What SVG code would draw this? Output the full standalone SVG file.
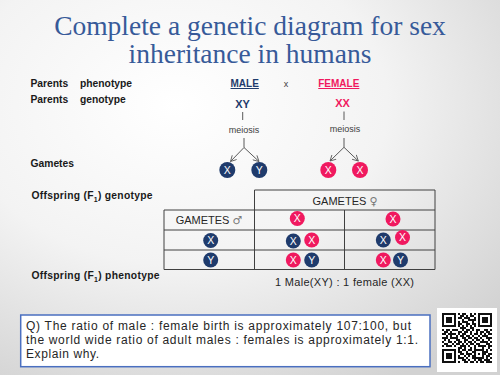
<svg xmlns="http://www.w3.org/2000/svg" width="500" height="375" viewBox="0 0 500 375">
<defs>
<radialGradient id="bg" cx="35%" cy="28%" r="85%">
<stop offset="0" stop-color="#ffffff"/>
<stop offset="0.5" stop-color="#f3f3f3"/>
<stop offset="1" stop-color="#d2d2d2"/>
</radialGradient>
<marker id="arr" viewBox="0 0 8 8" refX="7" refY="4" markerWidth="7" markerHeight="7" markerUnits="userSpaceOnUse" orient="auto">
<path d="M0.5,0.5 L7,4 L0.5,7.5" fill="none" stroke="#595959" stroke-width="1"/>
</marker>
<style>
.title{font-family:"Liberation Serif","Times New Roman",serif;font-size:27.5px;fill:#375a99;text-anchor:middle}
.lab{font-family:"Liberation Sans",Arial,sans-serif;font-size:10.3px;font-weight:bold;fill:#1a1a1a}
.par{font-family:"Liberation Sans",Arial,sans-serif;font-size:10px;font-weight:bold;text-decoration:underline;text-anchor:middle}
.geno{font-family:"Liberation Sans",Arial,sans-serif;font-size:11px;font-weight:bold;text-anchor:middle}
.small{font-family:"Liberation Sans",Arial,sans-serif;font-size:9px;fill:#404040;text-anchor:middle}
.tt{font-family:"Liberation Sans",Arial,sans-serif;font-size:11px;fill:#262626;text-anchor:middle}
.sym{font-family:"DejaVu Sans",sans-serif;font-size:11px;fill:#7a7a7a}
.q{font-family:"Liberation Sans",Arial,sans-serif;font-size:12px;fill:#262626}
.m{fill:#1f3b6c}
.f{fill:#f0195f}
.cl{font-family:"Liberation Sans",Arial,sans-serif;font-size:10.5px;fill:#ffffff;text-anchor:middle}
.navy{fill:#1f3b6c}
.pink{fill:#f0195f}
.conn{stroke:#595959;stroke-width:1;fill:none}
.grid{stroke:#404040;stroke-width:1;fill:none}
</style>
</defs>
<rect x="0" y="0" width="500" height="375" fill="url(#bg)"/>

<text class="title" x="250" y="35">Complete a genetic diagram for sex</text>
<text class="title" x="250" y="63">inheritance in humans</text>

<g id="labels">
<text class="lab" x="30.5" y="87">Parents</text>
<text class="lab" x="80" y="87">phenotype</text>
<text class="lab" x="30.5" y="103">Parents</text>
<text class="lab" x="80" y="103">genotype</text>
<text class="lab" x="30.5" y="167">Gametes</text>
<text class="lab" x="31.5" y="199" textLength="121">Offspring (F<tspan font-size="7" dy="2.5">1</tspan><tspan dy="-2.5">) genotype</tspan></text>
<text class="lab" x="31.5" y="279" textLength="128">Offspring (F<tspan font-size="7" dy="2.5">1</tspan><tspan dy="-2.5">) phenotype</tspan></text>
</g>

<g id="male-parent">
<text class="par navy" x="244.7" y="87">MALE</text>
<text class="geno navy" x="242.5" y="107.5">XY</text>
<text class="small" x="244" y="133">meiosis</text>
</g>
<text class="small" x="286" y="87" font-size="10">x</text>
<g id="female-parent">
<text class="par pink" x="338.8" y="87">FEMALE</text>
<text class="geno pink" x="342.5" y="107">XX</text>
<text class="small" x="345" y="131.5">meiosis</text>
</g>

<g id="connectors">
<line class="conn" x1="242.7" y1="112" x2="242.7" y2="120"/>
<line class="conn" x1="244" y1="138" x2="244" y2="147.5"/>
<line class="conn" x1="244" y1="147.5" x2="230.5" y2="161.5" marker-end="url(#arr)"/>
<line class="conn" x1="244" y1="147.5" x2="259" y2="161.5" marker-end="url(#arr)"/>
<line class="conn" x1="344" y1="111.5" x2="344" y2="120"/>
<line class="conn" x1="344" y1="138" x2="344" y2="147.3"/>
<line class="conn" x1="344" y1="147.3" x2="330" y2="161" marker-end="url(#arr)"/>
<line class="conn" x1="344" y1="147.3" x2="358.3" y2="161" marker-end="url(#arr)"/>
</g>

<g id="gamete-male-x"><circle class="m" cx="227.3" cy="170" r="8"/><text class="cl" x="227.3" y="173.8">X</text></g>
<g id="gamete-male-y"><circle class="m" cx="259.3" cy="170" r="8"/><text class="cl" x="259.3" y="173.8">Y</text></g>
<g id="gamete-female-x1"><circle class="f" cx="328.3" cy="170" r="8"/><text class="cl" x="328.3" y="173.8">X</text></g>
<g id="gamete-female-x2"><circle class="f" cx="360" cy="170" r="8"/><text class="cl" x="360" y="173.8">X</text></g>

<g id="punnett">
<path class="grid" d="M254.5,190 H435 V269.5 H164 V210 H435 M164,230 H435 M164,250 H435 M254.5,190 V269.5 M344.5,210 V269.5"/>
<text class="tt" x="345" y="205">GAMETES <tspan class="sym">♀</tspan></text>
<text class="tt" x="209" y="224">GAMETES <tspan class="sym">♂</tspan></text>
<circle class="f" cx="297.3" cy="218.5" r="7.5"/><text class="cl" x="297.3" y="222.2">X</text>
<circle class="f" cx="393" cy="219" r="7.5"/><text class="cl" x="393" y="222.7">X</text>
<circle class="m" cx="210.7" cy="240.5" r="7.5"/><text class="cl" x="210.7" y="244.2">X</text>
<circle class="m" cx="293.3" cy="241" r="7.5"/><text class="cl" x="293.3" y="244.7">X</text>
<circle class="f" cx="311.7" cy="240" r="7.5"/><text class="cl" x="311.7" y="243.7">X</text>
<circle class="m" cx="383.3" cy="240" r="7.5"/><text class="cl" x="383.3" y="243.7">X</text>
<circle class="f" cx="402.5" cy="237.5" r="7.5"/><text class="cl" x="402.5" y="241.2">X</text>
<circle class="m" cx="210.7" cy="260" r="7.5"/><text class="cl" x="210.7" y="263.7">Y</text>
<circle class="f" cx="293.3" cy="260" r="7.5"/><text class="cl" x="293.3" y="263.7">X</text>
<circle class="m" cx="311.7" cy="260" r="7.5"/><text class="cl" x="311.7" y="263.7">Y</text>
<circle class="f" cx="383.3" cy="260" r="7.5"/><text class="cl" x="383.3" y="263.7">X</text>
<circle class="m" cx="400.5" cy="260" r="7.5"/><text class="cl" x="400.5" y="263.7">Y</text>
</g>

<text class="tt" x="344.5" y="286" textLength="139">1 Male(XY) : 1 female (XX)</text>

<g id="question">
<rect x="20.7" y="315" width="409.3" height="51.7" fill="#ffffff" stroke="#4a6fc0" stroke-width="1.5"/>
<text class="q" x="26" y="330" textLength="385">Q) The ratio of male : female birth is approximately 107:100, but</text>
<text class="q" x="26" y="344" textLength="392">the world wide ratio of adult males : females is approximately 1:1.</text>
<text class="q" x="26" y="357.7" textLength="73">Explain why.</text>
</g>

<g id="qr">
<rect x="437" y="308" width="60" height="64" fill="#ffffff"/>
<path fill="#111111" d="M442 313h14v2h-14zM458 313h2v2h-2zM462 313h4v2h-4zM470 313h2v2h-2zM474 313h2v2h-2zM478 313h14v2h-14z
M442 315h2v2h-2zM454 315h2v2h-2zM460 315h4v2h-4zM466 315h2v2h-2zM470 315h4v2h-4zM478 315h2v2h-2zM490 315h2v2h-2z
M442 317h2v2h-2zM446 317h6v2h-6zM454 317h2v2h-2zM458 317h4v2h-4zM464 317h6v2h-6zM474 317h2v2h-2zM478 317h2v2h-2zM482 317h6v2h-6zM490 317h2v2h-2z
M442 319h2v2h-2zM446 319h6v2h-6zM454 319h2v2h-2zM462 319h2v2h-2zM468 319h8v2h-8zM478 319h2v2h-2zM482 319h6v2h-6zM490 319h2v2h-2z
M442 321h2v2h-2zM446 321h6v2h-6zM454 321h2v2h-2zM458 321h2v2h-2zM462 321h6v2h-6zM472 321h2v2h-2zM478 321h2v2h-2zM482 321h6v2h-6zM490 321h2v2h-2z
M442 323h2v2h-2zM454 323h2v2h-2zM458 323h4v2h-4zM466 323h4v2h-4zM472 323h4v2h-4zM478 323h2v2h-2zM490 323h2v2h-2z
M442 325h14v2h-14zM458 325h2v2h-2zM462 325h2v2h-2zM466 325h2v2h-2zM470 325h2v2h-2zM474 325h2v2h-2zM478 325h14v2h-14z
M460 327h6v2h-6zM470 327h4v2h-4z
M442 329h2v2h-2zM446 329h4v2h-4zM452 329h6v2h-6zM462 329h2v2h-2zM466 329h4v2h-4zM472 329h2v2h-2zM476 329h4v2h-4zM484 329h4v2h-4zM490 329h2v2h-2z
M444 331h4v2h-4zM450 331h2v2h-2zM458 331h4v2h-4zM464 331h4v2h-4zM470 331h2v2h-2zM476 331h2v2h-2zM480 331h4v2h-4zM486 331h4v2h-4z
M442 333h4v2h-4zM448 333h8v2h-8zM458 333h2v2h-2zM462 333h4v2h-4zM470 333h2v2h-2zM474 333h4v2h-4zM480 333h2v2h-2zM484 333h2v2h-2zM488 333h4v2h-4z
M446 335h2v2h-2zM450 335h2v2h-2zM456 335h2v2h-2zM460 335h4v2h-4zM466 335h4v2h-4zM472 335h2v2h-2zM478 335h2v2h-2zM482 335h6v2h-6z
M442 337h6v2h-6zM450 337h8v2h-8zM462 337h4v2h-4zM468 337h4v2h-4zM474 337h4v2h-4zM480 337h2v2h-2zM486 337h6v2h-6z
M444 339h2v2h-2zM448 339h2v2h-2zM456 339h4v2h-4zM464 339h4v2h-4zM472 339h2v2h-2zM476 339h4v2h-4zM482 339h2v2h-2zM488 339h2v2h-2z
M442 341h2v2h-2zM448 341h4v2h-4zM454 341h2v2h-2zM458 341h4v2h-4zM464 341h2v2h-2zM468 341h4v2h-4zM474 341h2v2h-2zM480 341h8v2h-8zM490 341h2v2h-2z
M444 343h4v2h-4zM452 343h2v2h-2zM456 343h4v2h-4zM462 343h2v2h-2zM466 343h2v2h-2zM470 343h4v2h-4zM476 343h4v2h-4zM486 343h4v2h-4z
M442 345h2v2h-2zM446 345h6v2h-6zM454 345h2v2h-2zM460 345h6v2h-6zM468 345h2v2h-2zM474 345h2v2h-2zM478 345h8v2h-8zM488 345h4v2h-4z
M458 347h4v2h-4zM464 347h2v2h-2zM470 347h2v2h-2zM474 347h2v2h-2zM482 347h2v2h-2zM488 347h2v2h-2z
M442 349h14v2h-14zM458 349h2v2h-2zM462 349h4v2h-4zM468 349h4v2h-4zM474 349h10v2h-10zM486 349h2v2h-2zM490 349h2v2h-2z
M442 351h2v2h-2zM454 351h2v2h-2zM458 351h4v2h-4zM466 351h2v2h-2zM472 351h4v2h-4zM482 351h6v2h-6z
M442 353h2v2h-2zM446 353h6v2h-6zM454 353h2v2h-2zM460 353h4v2h-4zM466 353h6v2h-6zM474 353h2v2h-2zM478 353h2v2h-2zM482 353h4v2h-4zM488 353h4v2h-4z
M442 355h2v2h-2zM446 355h6v2h-6zM454 355h2v2h-2zM458 355h2v2h-2zM464 355h2v2h-2zM468 355h2v2h-2zM472 355h4v2h-4zM482 355h2v2h-2zM486 355h4v2h-4z
M442 357h2v2h-2zM446 357h6v2h-6zM454 357h2v2h-2zM458 357h6v2h-6zM466 357h2v2h-2zM472 357h12v2h-12zM486 357h2v2h-2zM490 357h2v2h-2z
M442 359h2v2h-2zM454 359h2v2h-2zM462 359h4v2h-4zM468 359h2v2h-2zM474 359h2v2h-2zM478 359h4v2h-4zM484 359h6v2h-6z
M442 361h14v2h-14zM458 361h2v2h-2zM464 361h4v2h-4zM470 361h4v2h-4zM476 361h2v2h-2zM480 361h4v2h-4zM486 361h6v2h-6z"/>
</g>
</svg>
